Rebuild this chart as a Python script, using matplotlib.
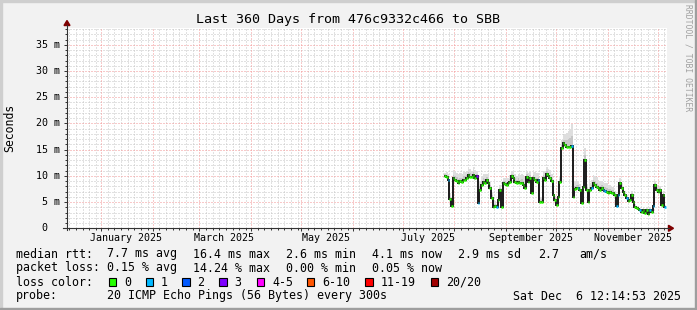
import datetime as dt
import numpy as np
import pandas as pd
import matplotlib
matplotlib.use("Agg")
import matplotlib.pyplot as plt
import matplotlib.dates as mdates
from matplotlib.patches import Rectangle, Polygon
from matplotlib.lines import Line2D

# canvas size in pixels
W, H = 697, 310
END = dt.datetime(2025, 12, 6, 12, 14, 53)
START = END - dt.timedelta(days=360)

title = "Last 360 Days from 476c9332c466 to SBB"

# Daily median rtt (ms), first value on first_day
first_day = "2025-07-26"
rtt_ms = [
    10.0, 9.8, 9.3, 5.5, 4.3,
    9.5, 9.3, 9.0, 8.6, 9.0, 8.9, 9.2, 9.3, 9.6, 10.2, 9.8, 9.8, 10.2, 9.5, 9.9,
    4.8, 7.3, 8.3, 8.9, 8.7, 9.2, 8.6, 7.6, 5.8, 4.1, 4.3, 4.0, 5.4, 7.3, 4.1,
    8.6, 8.5, 8.3, 8.6, 8.9, 10.0, 9.5, 8.9, 8.6, 8.8, 8.6, 8.7, 8.3, 7.7, 9.8,
    8.9, 9.5, 6.7, 9.5, 9.2, 8.9, 9.2, 5.1, 5.1, 9.5, 9.2, 10.3, 9.9, 9.5, 9.1,
    6.4, 5.4, 4.4, 6.0, 8.9,
    15.3, 16.2, 15.8, 15.6, 15.6, 15.6, 15.7,
    6.0, 7.5, 7.6, 7.6, 7.3, 4.8, 7.9, 13.0,
    7.3, 5.1, 7.3, 7.6, 8.6, 8.3, 7.9, 7.6, 7.3, 7.6, 7.3, 7.2, 7.0, 6.8, 7.0,
    6.7, 6.8, 6.3, 4.3, 6.3, 8.6, 7.6, 7.0,
    6.3, 5.7, 5.3, 5.4, 6.3, 5.1, 4.1, 3.8, 3.6, 3.4, 3.2, 3.5, 2.9, 3.5, 2.7,
    3.5, 3.2, 4.2, 8.3, 7.3, 7.0, 7.3, 4.4, 6.3, 4.0,
]
# height of the grey "smoke" above the median (ms)
smoke_ms = [
    0.6, 0.9, 1.0, 1.2, 0.8,
    1.6, 1.7, 1.6, 1.8, 1.5, 1.4, 1.6, 1.5, 1.3, 1.4, 1.5, 1.2, 1.4, 1.6, 1.1,
    1.0, 1.8, 1.7, 1.5, 1.6, 1.2, 1.5, 1.4, 1.2, 0.8, 0.9, 0.7, 0.8, 1.0, 0.6,
    1.0, 1.1, 1.2, 1.0, 1.2, 1.0, 1.3, 1.5, 1.4, 1.6, 1.5, 1.7, 1.8, 2.0, 1.2,
    1.6, 1.3, 1.0, 1.4, 1.5, 1.6, 1.3, 0.8, 0.9, 1.4, 1.6, 1.3, 1.5, 1.6, 1.2,
    0.9, 0.8, 0.6, 0.8, 1.0,
    1.5, 1.6, 2.2, 2.6, 3.0, 3.4, 4.2,
    1.0, 1.4, 1.5, 1.3, 1.2, 0.8, 1.0, 2.3,
    1.2, 0.8, 1.4, 1.6, 1.5, 1.6, 1.8, 1.6, 1.7, 1.5, 1.6, 1.5, 1.6, 1.4, 1.3,
    1.2, 1.0, 0.9, 0.6, 0.8, 1.0, 1.1, 0.9,
    0.8, 0.7, 0.7, 0.6, 0.8, 0.6, 0.5, 0.5, 0.6, 0.5, 0.5, 0.6, 0.5, 0.6, 0.5,
    0.6, 0.5, 0.8, 0.8, 1.0, 0.9, 0.8, 0.6, 0.8, 0.5,
]
# days with packet loss (index into rtt_ms) and lost pings
loss_idx = [2, 19, 20, 31, 56, 76, 80, 88, 95, 96, 103, 104, 109, 117, 123, 125, 132]
loss_cnt = [1, 3, 1, 1, 1, 1, 1, 1, 1, 1, 1, 1, 1, 1, 1, 1, 1]

loss_labels = ["0", "1", "2", "3", "4-5", "6-10", "11-19", "20/20"]
loss_colors = ["#26ff00", "#00b8ff", "#0059ff", "#7e00ff",
               "#ff00ff", "#ff5500", "#ff0000", "#a00000"]
loss_box_x = [108.7, 145.7, 182.3, 219.3, 256.7, 306.7, 365.0, 430.7]

label_months = [1, 3, 5, 7, 9, 11]
y_ticks = [0, 5, 10, 15, 20, 25, 30, 35]

legend_rows = [
    (254, [(16, "median rtt:"), (107.3, "7.7 ms avg"), (192.7, "16.4 ms max"),
           (286.5, "2.6 ms min"), (371.7, "4.1 ms now"), (458.3, "2.9 ms sd"),
           (538.3, "2.7"), (579.3, "am/s")]),
    (268, [(16, "packet loss:"), (107.3, "0.15 % avg"), (192.7, "14.24 % max"),
           (286.5, "0.00 % min"), (371.7, "0.05 % now")]),
    (282, [(16, "loss color:")]),
    (296, [(16, "probe:"), (107.3, "20 ICMP Echo Pings (56 Bytes) every 300s"),
           (513.3, "Sat Dec  6 12:14:53 2025")]),
]

MONO = "DejaVu Sans Mono"
BACK = "#f2f2f2"
AXIS = "#333333"
ARROW = "#7f0000"
DOTS = (0, (1, 2))

fig = plt.figure(figsize=(W / 100, H / 100), dpi=100)
fig.patch.set_facecolor(BACK)

x0, x1, y0, y1 = 67, 667, 228.3, 28
ax = fig.add_axes([x0 / W, 1 - y0 / H, (x1 - x0) / W, (y0 - y1) / H])
ax.set_facecolor("white")
ax.set_xlim(START, END)
ax.set_ylim(0, 38.2)
for s in ax.spines.values():
    s.set_visible(False)


def ftext(x, y, s, **kw):
    kw.setdefault("family", MONO)
    kw.setdefault("size", 8.34)
    kw.setdefault("va", "center")
    fig.text(x / W, 1 - y / H, s, **kw)


# grid: month lines red, minor lines every 4 days inside each month
month_starts = []
minor_days = []
d = dt.datetime(START.year, START.month, 1)
while d < END:
    nxt = (d + dt.timedelta(days=32)).replace(day=1)
    if d > START:
        month_starts.append(d)
    for k in range(5, (nxt - d).days + 1, 4):
        day = d.replace(day=k)
        if START < day < END:
            minor_days.append(day)
    d = nxt

grid_kw = dict(lw=0.72, ls=DOTS)
for day in minor_days:
    ax.axvline(day, color="#c4c4c4", zorder=0.5, **grid_kw)
for v in range(1, 39):
    if v % 5:
        ax.axhline(v, color="#c4c4c4", zorder=0.5, **grid_kw)
for day in month_starts:
    ax.axvline(day, color="#f39494", zorder=0.6, **grid_kw)
for v in y_ticks[1:]:
    ax.axhline(v, color="#f39494", zorder=0.6, **grid_kw)

ax.set_xticks(month_starts)
ax.set_xticks(minor_days, minor=True)
ax.set_yticks(y_ticks)
ax.set_yticks([v for v in range(1, 39) if v % 5], minor=True)
ax.tick_params(which="major", length=2.5, width=0.7, color=AXIS,
               labelbottom=False, labelleft=False)
ax.tick_params(which="minor", length=1.4, width=0.7, color=AXIS)

# data
edges = mdates.date2num(pd.date_range(first_day, periods=len(rtt_ms) + 1, freq="D"))
rtt = np.array(rtt_ms)
smoke = np.array(smoke_ms)
ax.stairs(rtt + smoke, edges, baseline=rtt, fill=True, color="#dedede", lw=0, zorder=2)
ax.stairs(rtt + smoke * 0.45, edges, baseline=rtt, fill=True, color="#c6c6c6", lw=0, zorder=2.1)
ax.stairs(rtt, edges, baseline=None, color="#1a1a1a", lw=1.4, zorder=3)

loss = np.zeros(len(rtt_ms), dtype=int)
loss[loss_idx] = loss_cnt
bins = [0, 1, 2, 3, 5, 10, 19, 20]
cidx = np.searchsorted(bins, loss)
seg_colors = [loss_colors[i] for i in cidx]
ax.hlines(rtt, edges[:-1], edges[1:], colors=seg_colors, lw=1.8, zorder=4,
          capstyle="butt")

# axis lines with arrows
fig.add_artist(Line2D([x0 / W, x0 / W], [1 - 230 / H, 1 - 25 / H], color=AXIS, lw=0.8))
fig.add_artist(Line2D([63 / W, 669 / W], [1 - y0 / H, 1 - y0 / H], color=AXIS, lw=0.8))
fig.add_artist(Polygon([[67 / W, 1 - 20.5 / H], [64 / W, 1 - 25.5 / H], [70 / W, 1 - 25.5 / H]],
                       closed=True, color=ARROW, transform=fig.transFigure))
fig.add_artist(Polygon([[673.5 / W, 1 - y0 / H], [668.5 / W, 1 - 225.3 / H], [668.5 / W, 1 - 231.3 / H]],
                       closed=True, color=ARROW, transform=fig.transFigure))

# tick labels
for v in y_ticks:
    lab = " 0" if v == 0 else f"{v:>2} m"
    y = y0 - v * (y0 - y1) / 38.2
    ftext(36, y, lab, size=7.2, ha="left")
for m in label_months:
    ax.text(dt.datetime(2025, m, 16), -(238 - y0) / (y0 - y1), dt.datetime(2025, m, 1).strftime("%B %Y"),
            transform=ax.get_xaxis_transform(), family=MONO, size=7.2,
            ha="center", va="center")

ftext(348.5, 19.3, title, size=9.6, ha="center")
ftext(10, 127.5, "Seconds", size=8.3, ha="center", rotation=90)
ftext(688, 4.5, "RRDTOOL / TOBI OETIKER", size=5.8, ha="center", va="top",
      rotation=270, color="#a0a0a0")

for y, parts in legend_rows:
    for x, s in parts:
        ftext(x, y, s, ha="left")
for bx, lab, col in zip(loss_box_x, loss_labels, loss_colors):
    fig.add_artist(Rectangle((bx / W, 1 - 286 / H), 7.6 / W, 8 / H, facecolor=col,
                             edgecolor="black", lw=0.8, transform=fig.transFigure))
    ftext(bx + 15.3, 282, lab, ha="left")

# 3d frame
shade_a, shade_b = "#cfcfcf", "#9e9e9e"
fig.add_artist(Rectangle((0, 1 - 2 / H), 1, 2 / H, color=shade_a, transform=fig.transFigure))
fig.add_artist(Rectangle((0, 0), 2 / W, 1, color=shade_a, transform=fig.transFigure))
fig.add_artist(Rectangle((0, 0), 1, 2 / H, color=shade_b, transform=fig.transFigure))
fig.add_artist(Rectangle((1 - 2 / W, 0), 2 / W, 1, color=shade_b, transform=fig.transFigure))

fig.savefig("out.png", dpi=100, facecolor=BACK)
